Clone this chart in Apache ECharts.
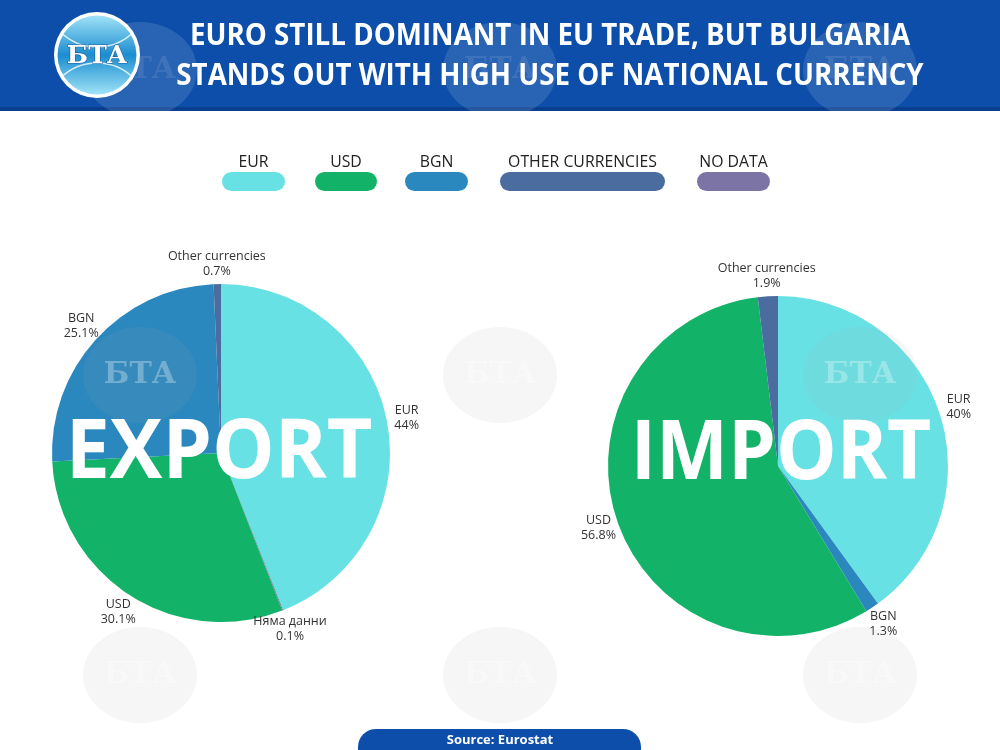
<!DOCTYPE html>
<html><head><meta charset="utf-8">
<script src="https://cdn.jsdelivr.net/npm/echarts@6/dist/echarts.min.js"></script>
<style>html,body{margin:0;padding:0;background:#fff}#c{width:1000px;height:750px}</style>
</head><body><div id="c"></div>
<script>
// ---- data ----
const legendNames = ['EUR', 'USD', 'BGN', 'OTHER CURRENCIES', 'NO DATA'];
const exportNames = ['EUR', 'Няма данни', 'USD', 'BGN', 'Other currencies'];
const exportValues = [44, 0.1, 30.1, 25.1, 0.7];
const importNames = ['EUR', 'BGN', 'USD', 'Other currencies'];
const importValues = [40, 1.3, 56.8, 1.9];

// ---- styles ----
const COL = { 'EUR': '#68e1e5', 'USD': '#12b368', 'BGN': '#2b88bf', 'Other currencies': '#4a6c9f', 'Няма данни': '#7c74a4' };
const legendColors = ['#68e1e5', '#12b368', '#2b88bf', '#4a6c9f', '#7c74a4'];
const legendX = [222, 315, 405, 500, 697];
const legendW = [63, 62, 63, 165, 73];
const BLUE = '#0c4ea9';

const chart = echarts.init(document.getElementById('c'), null, { renderer: 'canvas' });

function pieData(names, vals) {
  return names.map((n, i) => ({ name: n, value: vals[i], itemStyle: { color: COL[n] } }));
}
const labelCfg = {
  show: true, position: 'outside', formatter: '{b}\n{c}%',
  color: '#333', fontSize: 12.5, lineHeight: 15, fontFamily: 'Open Sans'
};
const labelLineCfg = { show: true, length: 20, length2: 0, lineStyle: { opacity: 0, width: 0 } };
function layoutFn(p) {
  const pt = p.labelLinePoints;
  if (!pt) return {};
  return { x: pt[1][0], y: pt[1][1], align: 'center', verticalAlign: 'middle' };
}

const graphics = [];
// header
graphics.push({ type: 'rect', shape: { x: 0, y: 0, width: 1000, height: 111 }, style: { fill: BLUE }, z: 1 });
graphics.push({ type: 'rect', shape: { x: 0, y: 107, width: 1000, height: 4 }, style: { fill: '#0a3f8f' }, z: 1 });
// watermarks
const wm = [[140, 70], [500, 70], [860, 70], [140, 375], [500, 375], [860, 375], [140, 675], [500, 675], [860, 675]];
wm.forEach(([x, y], i) => {
  const inHeader = i < 3;
  graphics.push({ type: 'ellipse', shape: { cx: x, cy: y, rx: 57, ry: 48 },
    style: { fill: inHeader ? 'rgba(255,255,255,0.12)' : 'rgba(170,170,170,0.10)' }, z: 20, silent: true });
  graphics.push({ type: 'text', x: x, y: y, style: { text: 'БТА', fill: inHeader ? 'rgba(255,255,255,0.10)' : 'rgba(255,255,255,0.30)',
    font: 'bold 30px "DejaVu Serif"', align: 'center', verticalAlign: 'middle' }, z: 21, silent: true });
});
// logo
graphics.push({ type: 'circle', shape: { cx: 97, cy: 55, r: 43 }, style: { fill: '#ffffff' }, z: 30 });
graphics.push({ type: 'circle', shape: { cx: 97, cy: 55, r: 39.5 },
  style: { fill: { type: 'linear', x: 0, y: 0, x2: 0, y2: 1, colorStops: [{ offset: 0, color: '#9fe3f7' }, { offset: 0.5, color: '#1b8dd0' }, { offset: 1, color: '#9fe3f7' }] } }, z: 31 });
graphics.push({ type: 'circle', shape: { cx: 97, cy: -5, r: 52 }, style: { fill: 'none', stroke: 'rgba(255,255,255,0.8)', lineWidth: 1.5 }, z: 32,
  clipPath: { type: 'circle', shape: { cx: 97, cy: 55, r: 39.5 } } });
graphics.push({ type: 'circle', shape: { cx: 97, cy: 115, r: 52 }, style: { fill: 'none', stroke: 'rgba(255,255,255,0.8)', lineWidth: 1.5 }, z: 32,
  clipPath: { type: 'circle', shape: { cx: 97, cy: 55, r: 39.5 } } });
graphics.push({ type: 'text', x: 97, y: 56, style: { text: 'БТА', fill: '#ffffff', stroke: '#1d5f9e', lineWidth: 1.2,
  font: 'bold 25px "DejaVu Serif"', align: 'center', verticalAlign: 'middle' }, z: 33 });
// title
const titleFont = 'bold 31px "Open Sans"';
graphics.push({ type: 'text', x: 550, y: 36, scaleX: 0.895, style: { text: 'EURO STILL DOMINANT IN EU TRADE, BUT BULGARIA', fill: '#fff',
  font: titleFont, align: 'center', verticalAlign: 'middle' }, z: 40 });
graphics.push({ type: 'text', x: 550, y: 76, scaleX: 0.895, style: { text: 'STANDS OUT WITH HIGH USE OF NATIONAL CURRENCY', fill: '#fff',
  font: titleFont, align: 'center', verticalAlign: 'middle' }, z: 40 });
// legend
legendNames.forEach((n, i) => {
  const x = legendX[i], w = legendW[i];
  graphics.push({ type: 'text', x: x + w / 2, y: 162, scaleX: 0.93, style: { text: n, fill: '#222', font: '17px "Open Sans"', align: 'center', verticalAlign: 'middle' }, z: 40 });
  graphics.push({ type: 'rect', shape: { x: x, y: 172, width: w, height: 19, r: 9.5 }, style: { fill: legendColors[i] }, z: 40 });
});
// big words
graphics.push({ type: 'text', x: 219, y: 454, scaleX: 0.95, style: { text: 'EXPORT', fill: '#fff', font: 'bold 83px "Open Sans"', align: 'center', verticalAlign: 'middle' }, z: 50 });
graphics.push({ type: 'text', x: 781, y: 455, scaleX: 0.92, style: { text: 'IMPORT', fill: '#fff', font: 'bold 83px "Open Sans"', align: 'center', verticalAlign: 'middle' }, z: 50 });
// source
graphics.push({ type: 'rect', shape: { x: 358, y: 729, width: 283, height: 40, r: 18 }, style: { fill: BLUE }, z: 40 });
graphics.push({ type: 'text', x: 500, y: 740, style: { text: 'Source: Eurostat', fill: '#fff', font: 'bold 13px "Open Sans"', align: 'center', verticalAlign: 'middle' }, z: 41 });

chart.setOption({
  backgroundColor: '#ffffff',
  animation: false,
  graphic: { elements: graphics },
  series: [
    {
      type: 'pie', name: 'Export', center: [221, 453], radius: 169, startAngle: 90, clockwise: true,
      avoidLabelOverlap: false, data: pieData(exportNames, exportValues),
      label: labelCfg, labelLine: labelLineCfg, labelLayout: layoutFn, z: 2
    },
    {
      type: 'pie', name: 'Import', center: [778, 466], radius: 170, startAngle: 90, clockwise: true,
      avoidLabelOverlap: false, data: pieData(importNames, importValues),
      label: labelCfg, labelLine: labelLineCfg, labelLayout: layoutFn, z: 2
    }
  ]
});
</script></body></html>
